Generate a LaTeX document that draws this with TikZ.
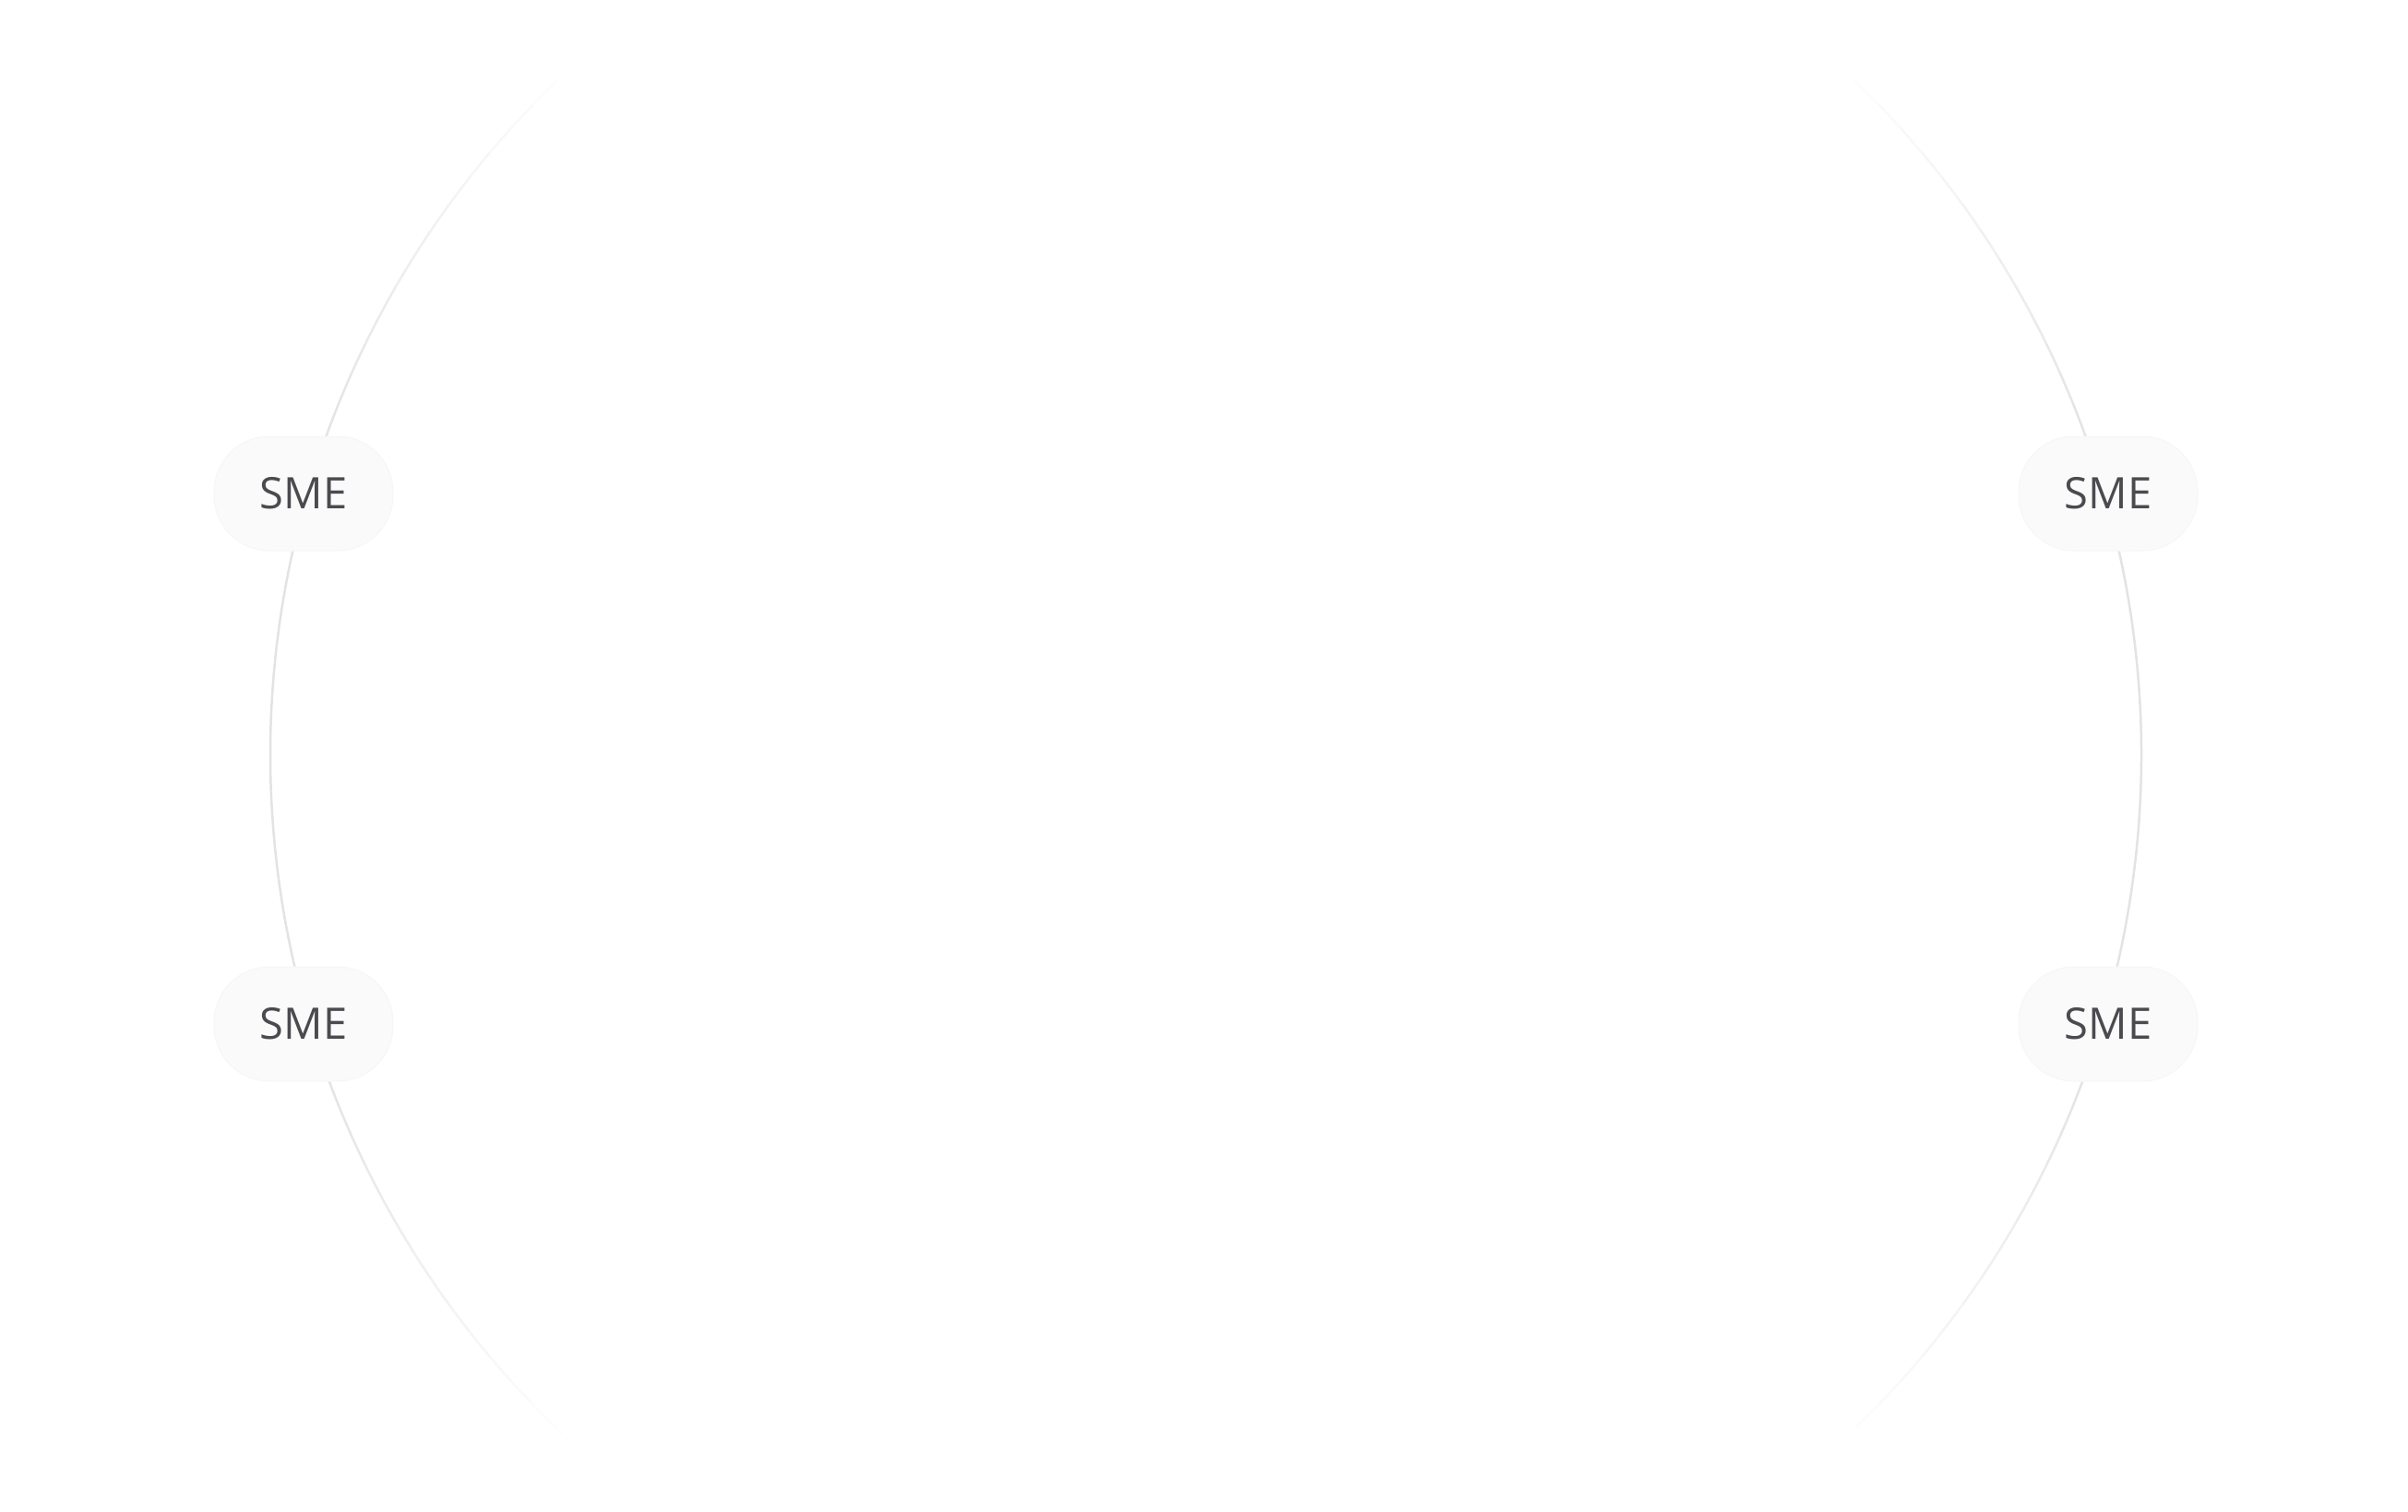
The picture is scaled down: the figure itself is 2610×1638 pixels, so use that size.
\documentclass[tikz,border=0pt]{standalone}
\usepackage{fontspec}
\setsansfont{Open Sans}
\usetikzlibrary{positioning,calc}
\definecolor{smetext}{RGB}{75,74,79}
\definecolor{smefill}{RGB}{250,250,251}
\definecolor{smeedge}{RGB}{246,246,248}
\tikzset{
badge/.style={
  draw=smeedge,
  line width=0.1mm,
  fill=smefill,
  rectangle,
  rounded corners=6mm,
  minimum width=19.4mm,
  minimum height=12.4mm,
  text=smetext,
  font=\sffamily\fontsize{13.4}{16}\selectfont
  },
ring/.style={line width=0.25mm, line cap=round}
}

\begin{document}
\begin{tikzpicture}[x=0.1mm,y=0.1mm,yscale=-1,xscale=1]
\useasboundingbox (0,0) rectangle (2610,1638);

\coordinate (hub) at (1307,818);

% left arc, fading out at both ends
\foreach \a in {132,134,...,226}{
  \pgfmathsetmacro{\d}{abs(\a+1-180)}
  \pgfmathsetmacro{\p}{\d<20 ? 22 : max(0,22*(48-\d)/28)}
  \draw [ring, color=gray!\p!white] (hub) ++(\a:1014) arc [start angle=\a, end angle=\a+2, radius=1014];
}
% right arc
\foreach \a in {-48,-46,...,46}{
  \pgfmathsetmacro{\d}{abs(\a+1)}
  \pgfmathsetmacro{\p}{\d<20 ? 22 : max(0,22*(48-\d)/28)}
  \draw [ring, color=gray!\p!white] (hub) ++(\a:1014) arc [start angle=\a, end angle=\a+2, radius=1014];
}

\node [badge] (smeTL) at (329,535) {SME};
\node [badge] (smeTR) at (2285,535) {SME};
\node [badge] (smeBL) at (329,1110) {SME};
\node [badge] (smeBR) at (2285,1110) {SME};

\end{tikzpicture}
\end{document}
